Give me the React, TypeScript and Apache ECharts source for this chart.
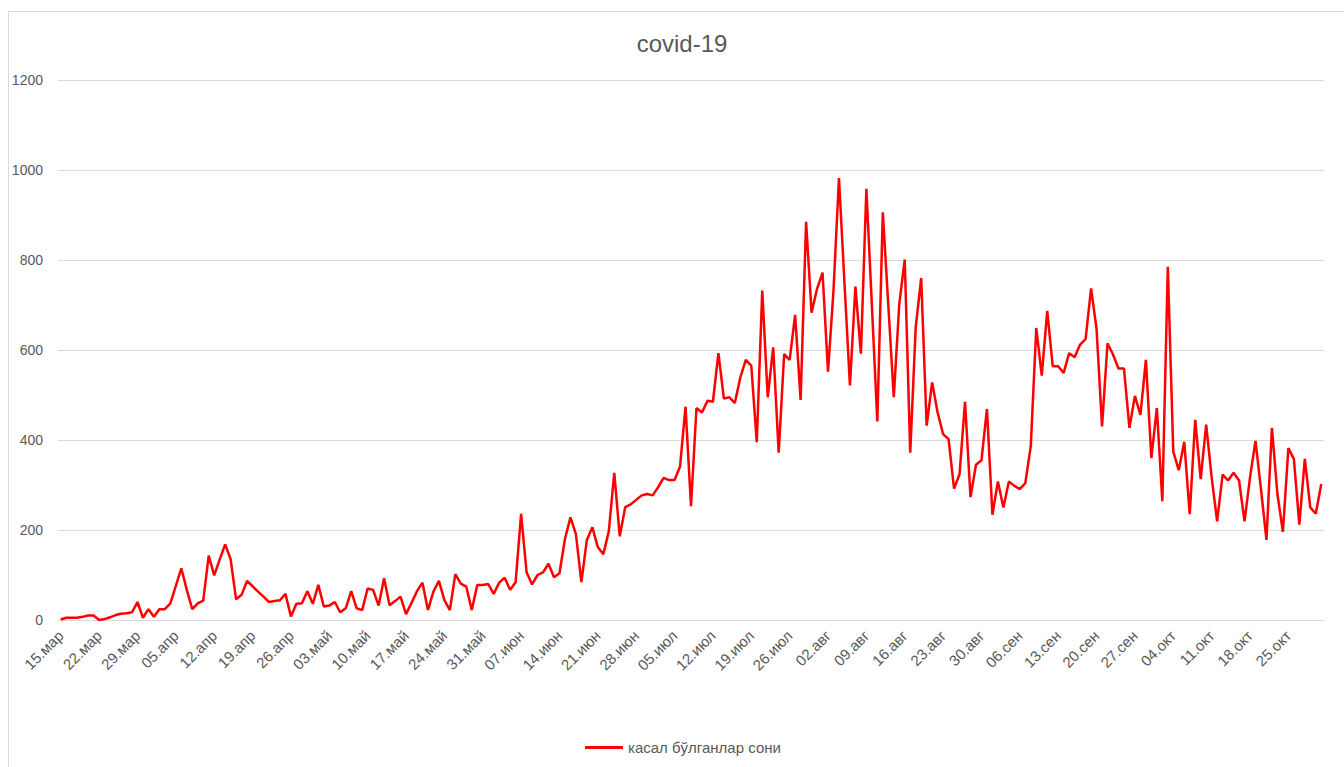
import { useEffect, useRef } from "react";
import * as echarts from "echarts";

const monthNames = ["янв", "фев", "мар", "апр", "май", "июн", "июл", "авг", "сен", "окт", "ноя", "дек"];
const startYear = 2020;
const startMonth = 2; // March (0-based)
const startDay = 15;

const seriesName = "касал бўлганлар сони";
const chartTitle = "covid-19";
const yTicks = [0, 200, 400, 600, 800, 1000, 1200];

// Daily values, by month (15 March – 31 October)
const marchValues = [1, 5, 5, 5, 7, 10, 10, 0, 2, 6, 11, 14, 15, 17, 40, 5, 24];
const aprilValues = [7, 24, 24, 37, 76, 115, 67, 24, 37, 43, 143, 99, 134, 168, 135, 46, 56, 87, 75, 63, 52, 40, 42, 44, 58, 8, 36, 37, 64, 36];
const mayValues = [78, 30, 32, 40, 17, 26, 64, 26, 22, 70, 67, 32, 93, 33, 42, 52, 13, 38, 64, 83, 22, 63, 87, 44, 22, 102, 81, 74, 22, 78, 78];
const juneValues = [80, 58, 83, 94, 67, 84, 236, 106, 79, 100, 106, 125, 95, 104, 180, 228, 191, 84, 178, 206, 162, 146, 197, 327, 186, 251, 257, 267, 277, 280];
const julyValues = [277, 295, 316, 311, 311, 341, 474, 253, 471, 461, 487, 485, 593, 492, 495, 482, 539, 578, 565, 395, 732, 495, 606, 372, 591, 578, 678, 489, 885, 683, 736];
const augustValues = [772, 552, 732, 982, 750, 521, 741, 592, 958, 700, 441, 906, 700, 495, 702, 801, 372, 650, 760, 432, 528, 461, 413, 402, 292, 324, 485, 273, 345, 355, 469];
const septemberValues = [234, 308, 250, 308, 298, 291, 304, 387, 649, 543, 687, 564, 564, 549, 593, 584, 612, 624, 737, 647, 430, 615, 590, 559, 559, 427, 498, 456, 578, 360];
const octoberValues = [471, 264, 785, 374, 333, 396, 235, 445, 313, 434, 317, 219, 323, 310, 327, 310, 219, 317, 398, 291, 178, 427, 280, 196, 382, 358, 212, 358, 250, 236, 302];

const values = [
  ...marchValues,
  ...aprilValues,
  ...mayValues,
  ...juneValues,
  ...julyValues,
  ...augustValues,
  ...septemberValues,
  ...octoberValues,
];

const categories: string[] = values.map((_, i) => {
  const d = new Date(startYear, startMonth, startDay + i);
  const dd = String(d.getDate()).padStart(2, "0");
  return `${dd}.${monthNames[d.getMonth()]}`;
});

const FONT = "'Liberation Sans', Arial, sans-serif";
const TEXT_COLOR = "#595959";
const GRID_COLOR = "#d9d9d9";

export default function App() {
  const ref = useRef<HTMLDivElement>(null);

  useEffect(() => {
    if (!ref.current) return;
    const chart = echarts.init(ref.current, undefined, { renderer: "svg" });
    chart.setOption({
      animation: false,
      backgroundColor: "#ffffff",
      textStyle: { fontFamily: FONT },
      graphic: [
        {
          type: "rect",
          shape: { x: 8.5, y: 11.5, width: 1400, height: 800 },
          style: { fill: "none", stroke: GRID_COLOR, lineWidth: 1 },
          silent: true,
          z: -1,
        },
        {
          type: "text",
          x: 682,
          y: 31,
          silent: true,
          style: {
            text: chartTitle,
            fontFamily: FONT,
            fontSize: 24,
            fill: TEXT_COLOR,
            textAlign: "center",
            textVerticalAlign: "top",
          },
        },
      ],
      legend: {
        left: 580,
        top: 735,
        icon: "rect",
        itemWidth: 38,
        itemHeight: 3,
        itemGap: 5,
        textStyle: { fontFamily: FONT, fontSize: 15, color: TEXT_COLOR },
        data: [seriesName],
      },
      grid: { left: 58, right: 20, top: 80, bottom: 147, containLabel: false },
      xAxis: {
        type: "category",
        data: categories,
        boundaryGap: true,
        axisLine: { show: true, lineStyle: { color: GRID_COLOR, width: 1 } },
        axisTick: { show: false },
        axisLabel: {
          interval: 6,
          rotate: 45,
          margin: 13,
          fontFamily: FONT,
          fontSize: 15,
          color: TEXT_COLOR,
        },
        splitLine: { show: false },
      },
      yAxis: {
        type: "value",
        min: yTicks[0],
        max: yTicks[yTicks.length - 1],
        interval: 200,
        axisLine: { show: false },
        axisTick: { show: false },
        axisLabel: {
          margin: 15,
          fontFamily: FONT,
          fontSize: 14,
          color: TEXT_COLOR,
          formatter: (v: number) => String(v),
        },
        splitLine: { show: true, lineStyle: { color: GRID_COLOR, width: 1 } },
      },
      series: [
        {
          name: seriesName,
          type: "line",
          data: values,
          symbol: "none",
          showSymbol: false,
          lineStyle: { color: "#ff0000", width: 2.5 },
          itemStyle: { color: "#ff0000" },
        },
      ],
    });
    return () => chart.dispose();
  }, []);

  return (
    <div
      ref={ref}
      style={{ position: "fixed", left: 0, top: 0, width: 1344, height: 767 }}
    />
  );
}
